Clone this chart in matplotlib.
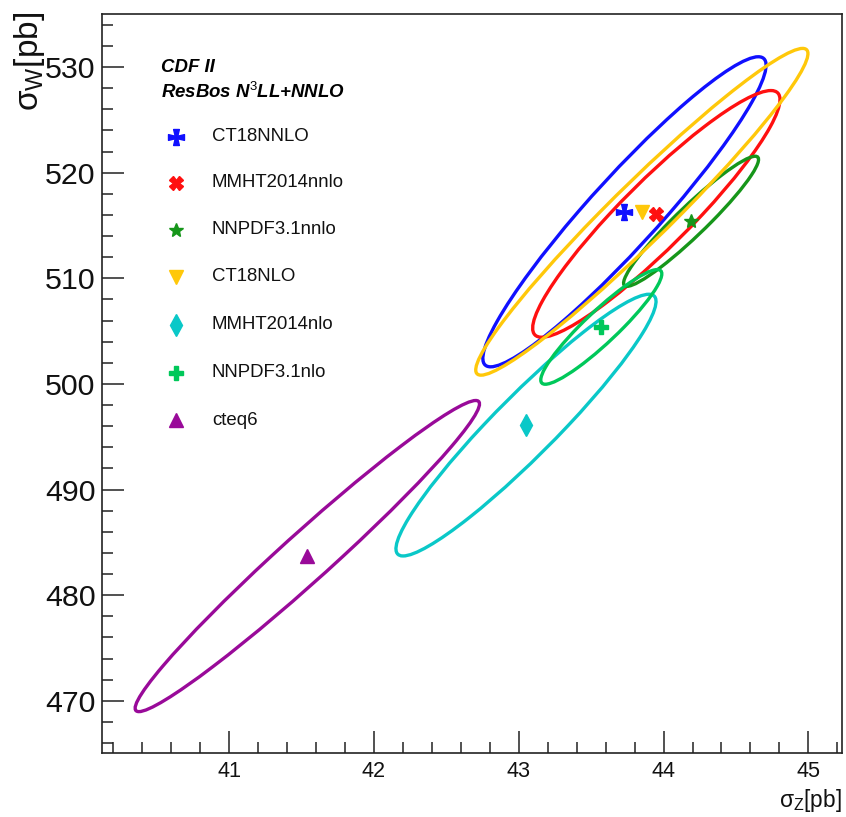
import numpy as np
import matplotlib
matplotlib.use("Agg")
import matplotlib.pyplot as plt
from matplotlib import font_manager as fm
from matplotlib.patches import Ellipse
from matplotlib.path import Path
from matplotlib.ticker import MultipleLocator

# ---------------- data ----------------
pdf_names = ['CT18NNLO', 'MMHT2014nnlo', 'NNPDF3.1nnlo', 'CT18NLO',
             'MMHT2014nlo', 'NNPDF3.1nlo', 'cteq6']
sigma_z = [43.73, 43.95, 44.19, 43.85, 43.05, 43.57, 41.54]      # pb
sigma_w = [516.3, 516.1, 515.4, 516.3, 496.1, 505.4, 483.7]      # pb
err_z = [0.978, 0.854, 0.466, 1.147, 0.898, 0.418, 1.189]
err_w = [14.68, 11.68, 6.16, 15.47, 12.39, 5.43, 14.73]
corr = [0.945, 0.926, 0.950, 0.968, 0.945, 0.925, 0.978]
colors = ['#1010ff', '#ff1010', '#16961a', '#ffc80a', '#0ac8c8', '#00c85a', '#990a99']
header_lines = ['CDF II', 'ResBos N$^{\\mathit{3}}$LL+NNLO']
x_title = 'σ$_{\\mathrm{Z}}$[pb]'
y_title = 'σ$_{\\mathrm{W}}$[pb]'

# ---------------- fonts ----------------
def has_font(name, **kw):
    try:
        fm.findfont(fm.FontProperties(family=name, **kw), fallback_to_default=False)
        return True
    except Exception:
        return False

if has_font('Liberation Sans Narrow'):
    NARROW, fs = 'Liberation Sans Narrow', 1.0
else:
    NARROW, fs = 'Liberation Sans', 0.84

plt.rcParams['font.family'] = [NARROW, 'DejaVu Sans']
plt.rcParams['mathtext.fontset'] = 'custom'
plt.rcParams['mathtext.rm'] = NARROW
plt.rcParams['mathtext.it'] = NARROW + ':italic:bold'
plt.rcParams['mathtext.bf'] = NARROW + ':bold'

# custom cross marker (ROOT style)
cv = [(-0.36, 1), (0.36, 1), (0.16, 0.16), (1, 0.36), (1, -0.36), (0.16, -0.16),
      (0.36, -1), (-0.36, -1), (-0.16, -0.16), (-1, -0.36), (-1, 0.36),
      (-0.16, 0.16), (-0.36, 1)]
cross_marker = Path(cv, [Path.MOVETO] + [Path.LINETO] * (len(cv) - 2) + [Path.CLOSEPOLY])
markers = [cross_marker, 'X', '*', 'v', 'd', 'P', '^']
msizes = [11.5, 10.0, 10.5, 10.5, 11.0, 10.0, 10.5]

# ---------------- figure ----------------
fig = plt.figure(figsize=(8.46, 8.17), dpi=100)
ax = fig.add_axes([0.1202, 0.0787, 0.8747, 0.9038])
ax.set_xlim(40.12, 45.23)
ax.set_ylim(465.08, 535.0)

for i in range(len(pdf_names)):
    cov = np.array([[err_z[i] ** 2, corr[i] * err_z[i] * err_w[i]],
                    [corr[i] * err_z[i] * err_w[i], err_w[i] ** 2]])
    vals, vecs = np.linalg.eigh(cov)
    order = vals.argsort()[::-1]
    vals, vecs = vals[order], vecs[:, order]
    angle = np.degrees(np.arctan2(vecs[1, 0], vecs[0, 0]))
    e = Ellipse((sigma_z[i], sigma_w[i]), 2 * np.sqrt(vals[0]), 2 * np.sqrt(vals[1]),
                angle=angle, fill=False, edgecolor=colors[i], lw=2.4, zorder=2)
    ax.add_patch(e)

for i in range(len(pdf_names)):
    ax.plot([sigma_z[i]], [sigma_w[i]], ls='none', marker=markers[i], ms=msizes[i],
            color=colors[i], mec=colors[i], zorder=4)

# axes style
for s in ax.spines.values():
    s.set_linewidth(1.2)
    s.set_color('#222222')
ax.xaxis.set_major_locator(MultipleLocator(1))
ax.xaxis.set_minor_locator(MultipleLocator(0.2))
ax.yaxis.set_major_locator(MultipleLocator(10))
ax.yaxis.set_minor_locator(MultipleLocator(2))
ax.tick_params(which='both', direction='in', top=False, right=False,
               width=1.1, color='#222222')
ax.tick_params(which='major', length=15.8)
ax.tick_params(which='minor', length=7.9)
ax.tick_params(axis='x', labelsize=18.5 * fs, pad=6)
ax.tick_params(axis='y', labelsize=26 * fs, pad=4.5)
for lab in ax.get_xticklabels() + ax.get_yticklabels():
    lab.set_color('#111111')

# axis titles
ax.text(1.0, -0.046, x_title, transform=ax.transAxes, ha='right', va='top',
        fontsize=19.5 * fs, color='#111111')
ax.text(-0.097, 1.003, y_title, transform=ax.transAxes, ha='center', va='top',
        rotation=90, fontsize=24, family='Liberation Sans', color='#111111')

# legend (manual, ROOT TLegend style)
ax.text(0.080, 0.928, header_lines[0], transform=ax.transAxes, ha='left',
        va='center', fontsize=16 * fs, fontweight='bold', fontstyle='italic')
ax.text(0.080, 0.895, header_lines[1], transform=ax.transAxes, ha='left',
        va='center', fontsize=16 * fs, fontweight='bold', fontstyle='italic')
leg_y = [0.8339, 0.7716, 0.7080, 0.6444, 0.5794, 0.5144, 0.4505]
for i in range(len(pdf_names)):
    ax.plot([0.1004], [leg_y[i]], transform=ax.transAxes, ls='none',
            marker=markers[i], ms=msizes[i], color=colors[i], mec=colors[i],
            clip_on=False, zorder=5)
    ax.text(0.149, leg_y[i], pdf_names[i], transform=ax.transAxes, ha='left',
            va='center', fontsize=16 * fs, color='#111111')

fig.savefig('out.png', dpi=100)
